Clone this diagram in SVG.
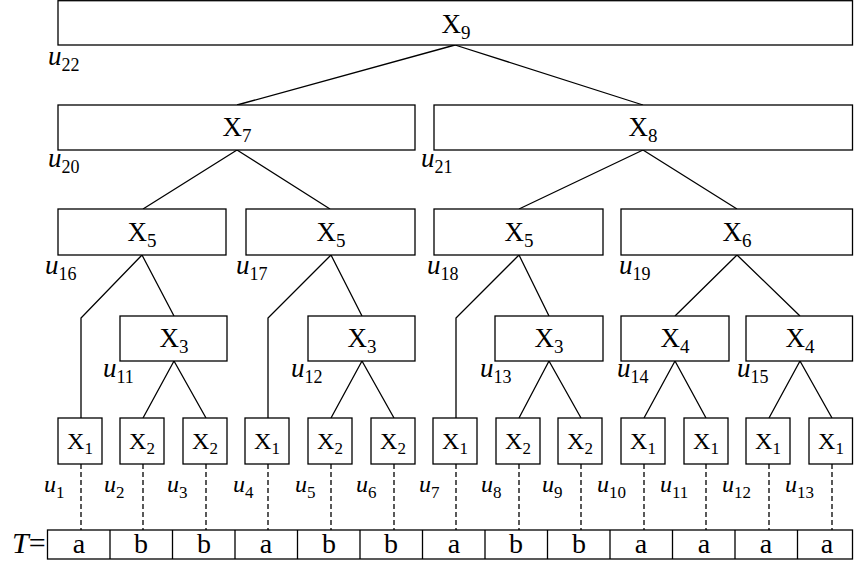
<svg xmlns="http://www.w3.org/2000/svg" width="854" height="561" viewBox="0 0 854 561">
<style>
.box{fill:#fff;stroke:#000;stroke-width:1.3}
.e{fill:none;stroke:#000;stroke-width:1.3}
.d{fill:none;stroke:#000;stroke-width:1.3;stroke-dasharray:5 3}
.X{font-family:"Liberation Serif","Times New Roman",serif;font-size:27px;text-anchor:middle;fill:#000}
.XL{font-family:"Liberation Serif","Times New Roman",serif;font-size:24px;text-anchor:middle;fill:#000}
.s{font-size:19px}
.sl{font-size:17px}
.u{font-family:"Liberation Serif","Times New Roman",serif;font-size:27px;font-style:italic;fill:#000}
.uL{font-family:"Liberation Serif","Times New Roman",serif;font-size:24px;font-style:italic;fill:#000}
.us{font-size:18px;font-style:normal}
.usl{font-size:17px;font-style:normal}
.c{font-family:"Liberation Serif","Times New Roman",serif;font-size:28px;text-anchor:middle;fill:#000}
</style>
<g id="connectors">
<path class="e" d="M455,45 L237,105 M455,45 L643,105"/>
<path class="e" d="M237,150 L143,209 M237,150 L330,209"/>
<path class="e" d="M643,150 L519,209 M643,150 L737,209"/>
<path class="e" d="M142,255 L81,318 L81,418 M142,255 L174,316"/>
<path class="e" d="M331,255 L268,318 L268,418 M331,255 L362,316"/>
<path class="e" d="M519,255 L456,318 L456,418 M519,255 L549,316"/>
<path class="e" d="M737,255 L675,316 M737,255 L800,316"/>
<path class="e" d="M174,361 L143,418 M174,361 L206,418"/>
<path class="e" d="M362,361 L331,418 M362,361 L394,418"/>
<path class="e" d="M549,361 L519,418 M549,361 L581,418"/>
<path class="e" d="M675,361 L644,418 M675,361 L706,418"/>
<path class="e" d="M800,361 L769,418 M800,361 L832,418"/>
<path class="d" d="M81,464 V530 M143,464 V530 M206,464 V530 M268,464 V530 M331,464 V530 M394,464 V530 M456,464 V530 M519,464 V530 M581,464 V530 M644,464 V530 M706,464 V530 M769,464 V530 M832,464 V530"/>
</g>
<g id="n22"><rect class="box" x="58" y="0.7" width="794.5" height="44.3"/><text class="X" x="456" y="33">X<tspan class="s" dy="6">9</tspan></text><text class="u" x="48" y="65">u<tspan class="us" dy="6">22</tspan></text></g>
<g id="n20"><rect class="box" x="58" y="105" width="357" height="45"/><text class="X" x="237" y="136">X<tspan class="s" dy="6">7</tspan></text><text class="u" x="48" y="167">u<tspan class="us" dy="6">20</tspan></text></g>
<g id="n21"><rect class="box" x="434" y="105" width="418.5" height="45"/><text class="X" x="643" y="136">X<tspan class="s" dy="6">8</tspan></text><text class="u" x="421" y="167">u<tspan class="us" dy="6">21</tspan></text></g>
<g id="n16"><rect class="box" x="58" y="209" width="168" height="46"/><text class="X" x="142" y="241">X<tspan class="s" dy="6">5</tspan></text><text class="u" x="45" y="274">u<tspan class="us" dy="6">16</tspan></text></g>
<g id="n17"><rect class="box" x="246" y="209" width="169" height="46"/><text class="X" x="331" y="241">X<tspan class="s" dy="6">5</tspan></text><text class="u" x="236" y="274">u<tspan class="us" dy="6">17</tspan></text></g>
<g id="n18"><rect class="box" x="434" y="209" width="169" height="46"/><text class="X" x="519" y="241">X<tspan class="s" dy="6">5</tspan></text><text class="u" x="427" y="274">u<tspan class="us" dy="6">18</tspan></text></g>
<g id="n19"><rect class="box" x="621" y="209" width="231.5" height="46"/><text class="X" x="737" y="241">X<tspan class="s" dy="6">6</tspan></text><text class="u" x="619" y="274">u<tspan class="us" dy="6">19</tspan></text></g>
<g id="n11"><rect class="box" x="120" y="316" width="107" height="45"/><text class="X" x="174" y="347">X<tspan class="s" dy="6">3</tspan></text><text class="u" x="103" y="377">u<tspan class="us" dy="6">11</tspan></text></g>
<g id="n12"><rect class="box" x="308" y="316" width="107" height="45"/><text class="X" x="362" y="347">X<tspan class="s" dy="6">3</tspan></text><text class="u" x="291" y="377">u<tspan class="us" dy="6">12</tspan></text></g>
<g id="n13"><rect class="box" x="495" y="316" width="108" height="45"/><text class="X" x="549" y="347">X<tspan class="s" dy="6">3</tspan></text><text class="u" x="480" y="377">u<tspan class="us" dy="6">13</tspan></text></g>
<g id="n14"><rect class="box" x="621" y="316" width="108" height="45"/><text class="X" x="675" y="347">X<tspan class="s" dy="6">4</tspan></text><text class="u" x="617" y="377">u<tspan class="us" dy="6">14</tspan></text></g>
<g id="n15"><rect class="box" x="746" y="316" width="106.5" height="45"/><text class="X" x="800" y="347">X<tspan class="s" dy="6">4</tspan></text><text class="u" x="737" y="377">u<tspan class="us" dy="6">15</tspan></text></g>
<g id="l1"><rect class="box" x="58" y="418" width="44" height="46"/><text class="XL" x="80" y="449">X<tspan class="sl" dy="5">1</tspan></text><text class="uL" x="44" y="492">u<tspan class="usl" dy="6">1</tspan></text></g>
<g id="l2"><rect class="box" x="120" y="418" width="44" height="46"/><text class="XL" x="142" y="449">X<tspan class="sl" dy="5">2</tspan></text><text class="uL" x="104" y="492">u<tspan class="usl" dy="6">2</tspan></text></g>
<g id="l3"><rect class="box" x="183" y="418" width="44" height="46"/><text class="XL" x="205" y="449">X<tspan class="sl" dy="5">2</tspan></text><text class="uL" x="167" y="492">u<tspan class="usl" dy="6">3</tspan></text></g>
<g id="l4"><rect class="box" x="245" y="418" width="44" height="46"/><text class="XL" x="267" y="449">X<tspan class="sl" dy="5">1</tspan></text><text class="uL" x="233" y="492">u<tspan class="usl" dy="6">4</tspan></text></g>
<g id="l5"><rect class="box" x="308" y="418" width="44" height="46"/><text class="XL" x="330" y="449">X<tspan class="sl" dy="5">2</tspan></text><text class="uL" x="295" y="492">u<tspan class="usl" dy="6">5</tspan></text></g>
<g id="l6"><rect class="box" x="371" y="418" width="44" height="46"/><text class="XL" x="393" y="449">X<tspan class="sl" dy="5">2</tspan></text><text class="uL" x="356" y="492">u<tspan class="usl" dy="6">6</tspan></text></g>
<g id="l7"><rect class="box" x="433" y="418" width="44" height="46"/><text class="XL" x="455" y="449">X<tspan class="sl" dy="5">1</tspan></text><text class="uL" x="419" y="492">u<tspan class="usl" dy="6">7</tspan></text></g>
<g id="l8"><rect class="box" x="496" y="418" width="44" height="46"/><text class="XL" x="518" y="449">X<tspan class="sl" dy="5">2</tspan></text><text class="uL" x="481" y="492">u<tspan class="usl" dy="6">8</tspan></text></g>
<g id="l9"><rect class="box" x="558" y="418" width="44" height="46"/><text class="XL" x="580" y="449">X<tspan class="sl" dy="5">2</tspan></text><text class="uL" x="542" y="492">u<tspan class="usl" dy="6">9</tspan></text></g>
<g id="l10"><rect class="box" x="621" y="418" width="44" height="46"/><text class="XL" x="643" y="449">X<tspan class="sl" dy="5">1</tspan></text><text class="uL" x="597" y="492">u<tspan class="usl" dy="6">10</tspan></text></g>
<g id="l11"><rect class="box" x="684" y="418" width="44" height="46"/><text class="XL" x="706" y="449">X<tspan class="sl" dy="5">1</tspan></text><text class="uL" x="660" y="492">u<tspan class="usl" dy="6">11</tspan></text></g>
<g id="l12"><rect class="box" x="746" y="418" width="44" height="46"/><text class="XL" x="768" y="449">X<tspan class="sl" dy="5">1</tspan></text><text class="uL" x="722" y="492">u<tspan class="usl" dy="6">12</tspan></text></g>
<g id="l13"><rect class="box" x="809" y="418" width="43.5" height="46"/><text class="XL" x="831" y="449">X<tspan class="sl" dy="5">1</tspan></text><text class="uL" x="785" y="492">u<tspan class="usl" dy="6">13</tspan></text></g>
<g id="T">
<text x="12" y="553" font-family="Liberation Serif, Times New Roman, serif" font-size="30" fill="#000"><tspan font-style="italic">T</tspan>=</text>
<rect class="box" x="47.5" y="530" width="805" height="29"/>
<path class="e" d="M110,530 V559 M172.5,530 V559 M235,530 V559 M297.5,530 V559 M360,530 V559 M422.5,530 V559 M485,530 V559 M547.5,530 V559 M610,530 V559 M672.5,530 V559 M735,530 V559 M797.5,530 V559"/>
<text class="c" x="79" y="553">a</text>
<text class="c" x="141" y="553">b</text>
<text class="c" x="204" y="553">b</text>
<text class="c" x="266" y="553">a</text>
<text class="c" x="329" y="553">b</text>
<text class="c" x="391" y="553">b</text>
<text class="c" x="454" y="553">a</text>
<text class="c" x="516" y="553">b</text>
<text class="c" x="579" y="553">b</text>
<text class="c" x="641" y="553">a</text>
<text class="c" x="704" y="553">a</text>
<text class="c" x="766" y="553">a</text>
<text class="c" x="827" y="553">a</text>
</g>
</svg>
